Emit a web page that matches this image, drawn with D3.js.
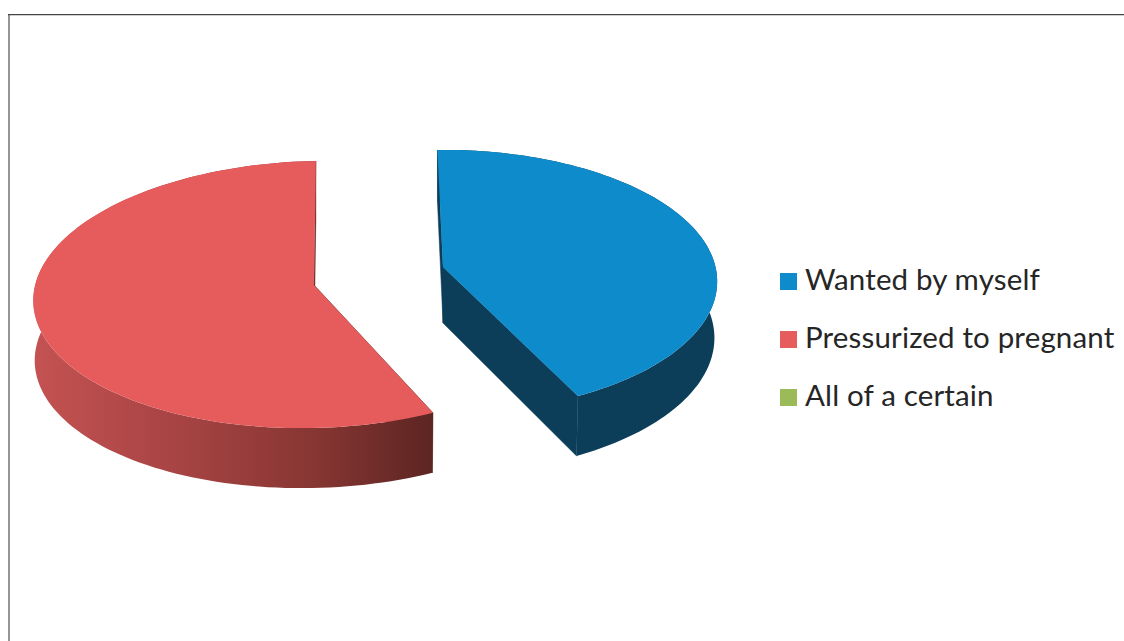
<!DOCTYPE html>
<html>
<head>
<meta charset="utf-8">
<script src="https://cdn.jsdelivr.net/npm/d3@7"></script>
<style>
  html, body { margin: 0; padding: 0; background: #fff; overflow: hidden; }
  svg { display: block; }
  text { font-family: Lato, "Noto Sans", sans-serif; fill: #262626; }
</style>
</head>
<body>
<svg id="chart" width="1124" height="641"></svg>
<script>
// Share of responses per category
const categories = ["Wanted by myself", "Pressurized to pregnant", "All of a certain"];
const shares = [43, 57, 0];
const topColors = ["#0d8bcb", "#e65c5c", "#9bbb59"];

const svg = d3.select("#chart");
const W = 1124, H = 641;
const rad = Math.PI / 180;

// Placement of each exploded slice: perspective, rim radii, apex, turn, tilt, thickness
const sliceLayout = [
  { persp: 0.11, cx: 443, cy: 267, rx: 272.5, ry: 130, turn: -1.3, trim: 0, tilt: 0, depth: 56, bx: 0.99, by: 1.03 },
  { persp: 0.0712, cx: 314, cy: 285, rx: 280, ry: 132.8, turn: 0.4, trim: 1.4, tilt: -6, depth: 60, bx: 0.995, by: 1.0 }
];

// Frame around the plot
svg.append("line").attr("x1", 9).attr("x2", 9).attr("y1", 14).attr("y2", H)
  .attr("stroke", "#8a8a8a").attr("stroke-width", 1.8);
svg.append("line").attr("x1", 8).attr("x2", W).attr("y1", 14.6).attr("y2", 14.6)
  .attr("stroke", "#444").attr("stroke-width", 1.2);

// Gradient along the red outer wall
const defs = svg.append("defs");
const wallGrad = defs.append("linearGradient")
  .attr("id", "redWall").attr("gradientUnits", "userSpaceOnUse")
  .attr("x1", 34).attr("x2", 434).attr("y1", 0).attr("y2", 0);
[[0, "#c45252"], [0.35, "#a84444"], [0.7, "#873633"], [1, "#5c2522"]].forEach(([o, c]) =>
  wallGrad.append("stop").attr("offset", o).attr("stop-color", c));

const wallFill = ["#0c3e5a", "url(#redWall)"];
const cutFill = ["#0c3e5a", "#5c2522"];

const pieGen = d3.pie().sort(null).value(d => d)
  .startAngle(0).endAngle(2 * Math.PI);
const arcs = pieGen(shares);

// Projects a disc point (unit radius r, angle a) onto the page
function project(layout, a, r, lower) {
  const u = r * Math.sin(a), v = -r * Math.cos(a);
  const w = 1 - layout.persp * v;
  const sx = lower ? layout.bx : 1, sy = lower ? layout.by : 1;
  return [
    layout.cx + sx * layout.rx * u / w,
    layout.cy + (lower ? layout.depth : 0) + (sy * layout.ry * v + layout.tilt * u) / w
  ];
}

const line = d3.line();

arcs.forEach((arc, i) => {
  if (arc.value === 0 || !sliceLayout[i]) return;
  const layout = sliceLayout[i];
  const a0 = arc.startAngle + (layout.turn + layout.trim) * rad;
  const a1 = arc.endAngle + layout.turn * rad;
  const angles = d3.range(0, 121).map(k => a0 + (a1 - a0) * k / 120);

  const rimTop = angles.map(a => project(layout, a, 1, false));
  const rimLow = angles.map(a => project(layout, a, 1, true));
  const apexTop = project(layout, 0, 0, false);
  const apexLow = project(layout, 0, 0, true);

  const g = svg.append("g").attr("class", "slice");

  // Two radial cut faces, painted first so the wall covers any hidden one
  [0, angles.length - 1].forEach(k => {
    g.append("path")
      .attr("d", line([apexTop, rimTop[k], rimLow[k], apexLow]) + "Z")
      .attr("fill", cutFill[i])
      .attr("stroke", cutFill[i]).attr("stroke-width", 0.5);
  });

  // Outer wall between upper and lower rims
  g.append("path")
    .attr("d", line(rimTop.concat(rimLow.slice().reverse())) + "Z")
    .attr("fill", wallFill[i]);

  // Upper face
  g.append("path")
    .attr("d", line([apexTop].concat(rimTop)) + "Z")
    .attr("fill", topColors[i]);
});

// Legend
const legendY = d3.scalePoint().domain(categories).range([281.5, 397.5]);
const legendColor = d3.scaleOrdinal().domain(categories).range(topColors);
const legend = svg.append("g").selectAll("g").data(categories).join("g")
  .attr("transform", d => `translate(780,${legendY(d)})`);
legend.append("rect")
  .attr("x", 0).attr("y", -8.5).attr("width", 17).attr("height", 17)
  .attr("fill", d => legendColor(d));
legend.append("text")
  .attr("x", 25).attr("y", 8.5)
  .attr("font-size", 29.5)
  .attr("letter-spacing", 0.15)
  .text(d => d);
</script>
</body>
</html>
